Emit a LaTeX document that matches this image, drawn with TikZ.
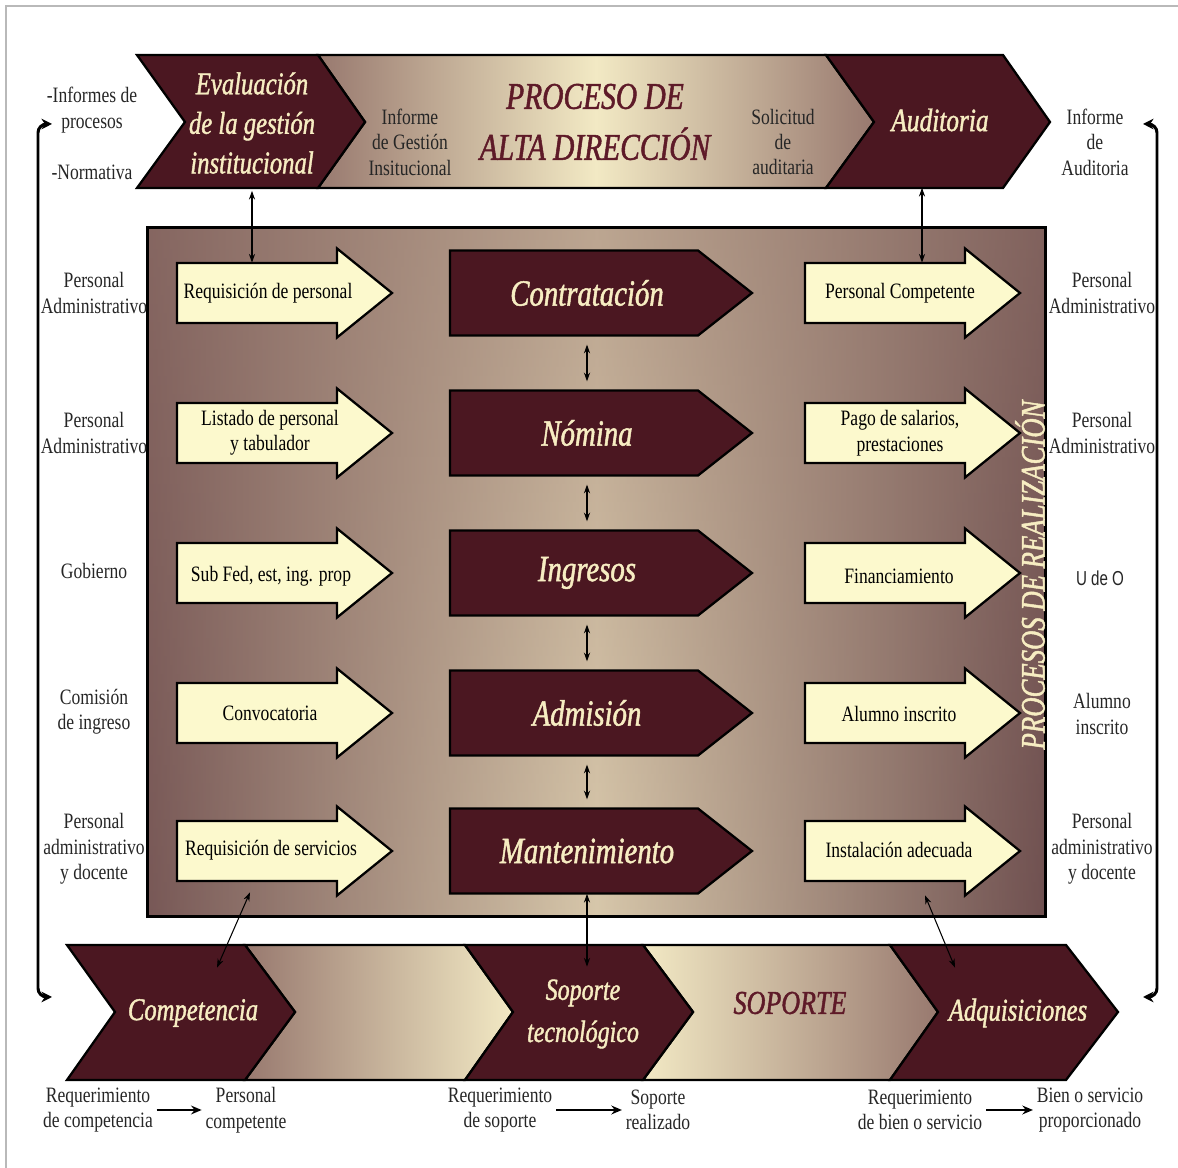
\documentclass[tikz,border=0pt]{standalone}
\usepackage{fontspec}
\setmainfont{Liberation Serif}[FakeStretch=0.8]
\newfontfamily\vistoso{Liberation Serif}[FakeStretch=0.78, FakeBold=1.3]
\newfontfamily\udeofont{Liberation Sans}[FakeStretch=0.75]
\usetikzlibrary{arrows.meta,fadings}

\definecolor{vino}{HTML}{4B1721}
\definecolor{crema}{HTML}{FCF9CD}
\definecolor{crematxt}{HTML}{F7EDC2}
\definecolor{malva}{HTML}{98796F}
\definecolor{palido}{HTML}{F2E9C4}
\definecolor{cajaosc}{HTML}{6A4A4C}
\definecolor{cajaosc2}{HTML}{5E3F43}
\definecolor{titulo}{HTML}{5E1A28}
\definecolor{gristxt}{HTML}{262626}

\tikzfading[name=tintefade, top color=transparent!40, middle color=transparent!100, bottom color=transparent!70]

\tikzset{
  contorno/.style={draw=black, line width=1.3pt, line join=miter},
  entrada/.pic={\draw[contorno, fill=crema] (0,-30) -- (160,-30) -- (160,-44.5) -- (215,0) -- (160,44.5) -- (160,30) -- (0,30) -- cycle;},
  proceso/.pic={\draw[contorno, fill=vino] (0,-42.5) -- (248,-42.5) -- (302,0) -- (248,42.5) -- (0,42.5) -- cycle;},
  etiqueta/.style={align=center, inner sep=2pt, text=gristxt, font=\fontsize{12.5}{14.5}\selectfont},
  txtflecha/.style={etiqueta, minimum height=1.2cm, text=black},
  txtproc/.style={align=center, inner sep=0pt, minimum height=1.7cm, text=crematxt, font=\vistoso\itshape\fontsize{21}{25}\selectfont},
  txtchev/.style={align=center, inner sep=0pt, minimum height=2.7cm, text=crematxt, font=\vistoso\itshape\fontsize{18}{22.5}\selectfont},
  enlace/.style={{Stealth[length=5pt,width=3.5pt]}-{Stealth[length=5pt,width=3.5pt]}, line width=0.6pt},
  retorno/.style={{Stealth[length=6pt,width=6pt]}-{Stealth[length=6pt,width=6pt]}, line width=1.7pt, rounded corners=5pt},
  flujo/.style={-{Stealth[length=6pt,width=5pt]}, line width=1.1pt},
}

\begin{document}
\begin{tikzpicture}[x=0.02cm, y=-0.02cm]
  \useasboundingbox (0,0) rectangle (1178,1168);
  \draw[gray!55, line width=0.7pt] (6,1168) -- (6,6) -- (1178,6);

  % alta direccion
  \shadedraw[contorno, left color=malva, right color=malva, middle color=palido] (318,55) -- (826,55) -- (874,122) -- (826,188) -- (318,188) -- (365,122) -- cycle;
  \draw[contorno, fill=vino] (137,55) -- (318,55) -- (365,122) -- (318,188) -- (137,188) -- (185,122) -- cycle;
  \draw[contorno, fill=vino] (826,55) -- (1003,55) -- (1050,122) -- (1003,188) -- (826,188) -- (874,122) -- cycle;
  \node[txtchev] (eval) at (252,123) {Evaluación\\de la gestión\\institucional};
  \node[txtchev, font=\vistoso\itshape\fontsize{18.5}{22}\selectfont] (aud) at (940,120) {Auditoria};
  \node[align=center, text=titulo, font=\vistoso\itshape\fontsize{21.5}{29}\selectfont] (titulo) at (595,122) {PROCESO DE\\ALTA DIRECCIÓN};
  \node[etiqueta] (infgest) at (410,142) {Informe\\de Gestión\\Insitucional};
  \node[etiqueta] (solic) at (783,142) {Solicitud\\de\\auditaria};
  \node[etiqueta] (infaud) at (1095,142) {Informe\\de\\Auditoria};
  \node[etiqueta] (infproc) at (92,110) {-Informes de\\procesos};
  \node[etiqueta] (norma) at (92,172) {-Normativa};

  % procesos de realizacion
  \node[minimum width=17.94cm, minimum height=13.76cm, inner sep=0pt, left color=cajaosc, right color=cajaosc2, middle color=palido] (realiz) at (596.5,572) {};
  \fill[malva, path fading=tintefade] (realiz.north west) rectangle (realiz.south east);
  \draw[line width=1.6pt] (realiz.north west) rectangle (realiz.south east);
  \node[rotate=90, text=crematxt, font=\vistoso\itshape\fontsize{19.5}{22}\selectfont] (realtag) at (1030,575) {PROCESOS DE REALIZACIÓN};

  \pic at (177,293) {entrada};
  \pic at (450,293) {proceso};
  \pic at (805,293) {entrada};
  \pic at (177,433) {entrada};
  \pic at (450,433) {proceso};
  \pic at (805,433) {entrada};
  \pic at (177,573) {entrada};
  \pic at (450,573) {proceso};
  \pic at (805,573) {entrada};
  \pic at (177,713) {entrada};
  \pic at (450,713) {proceso};
  \pic at (805,713) {entrada};
  \pic at (177,851) {entrada};
  \pic at (450,851) {proceso};
  \pic at (805,851) {entrada};

  \node[txtflecha] (in1) at (268,293) {Requisición de personal};
  \node[txtflecha] (in2) at (270,433) {Listado de personal\\y tabulador};
  \node[txtflecha] (in3) at (271,576) {Sub Fed, est, ing. prop};
  \node[txtflecha] (in4) at (270,713) {Convocatoria};
  \node[txtflecha] (in5) at (271,850) {Requisición de servicios};

  \node[txtproc] (contr) at (587,293) {Contratación};
  \node[txtproc] (nomina) at (587,433) {Nómina};
  \node[txtproc] (ingr) at (587,573) {Ingresos};
  \node[txtproc] (admis) at (587,713) {Admisión};
  \node[txtproc] (mant) at (587,851) {Mantenimiento};

  \node[txtflecha] (out1) at (900,293) {Personal Competente};
  \node[txtflecha] (out2) at (900,433) {Pago de salarios,\\prestaciones};
  \node[txtflecha] (out3) at (899,576) {Financiamiento};
  \node[txtflecha] (out4) at (899,714) {Alumno inscrito};
  \node[txtflecha] (out5) at (899,850) {Instalación adecuada};

  \node[etiqueta] (src1) at (94,293) {Personal\\Administrativo};
  \node[etiqueta] (src2) at (94,433) {Personal\\Administrativo};
  \node[etiqueta] (src3) at (94,571) {Gobierno};
  \node[etiqueta] (src4) at (94,712) {Comisión\\de ingreso};
  \node[etiqueta] (src5) at (94,849) {Personal\\administrativo\\y docente};

  \node[etiqueta] (dst1) at (1102,293) {Personal\\Administrativo};
  \node[etiqueta] (dst2) at (1102,433) {Personal\\Administrativo};
  \node[etiqueta, font=\udeofont\fontsize{11.5}{14}\selectfont] (dst3) at (1100,578) {U de O};
  \node[etiqueta] (dst4) at (1102,714) {Alumno\\inscrito};
  \node[etiqueta] (dst5) at (1102,849) {Personal\\administrativo\\y docente};

  % soporte
  \shadedraw[contorno, left color=malva, right color=palido] (245,945) -- (465,945) -- (513,1012) -- (465,1080) -- (245,1080) -- (295,1012) -- cycle;
  \shadedraw[contorno, left color=palido, right color=malva] (643,945) -- (890,945) -- (938,1012) -- (890,1080) -- (643,1080) -- (693,1012) -- cycle;
  \draw[contorno, fill=vino] (67,945) -- (245,945) -- (295,1012) -- (245,1080) -- (67,1080) -- (115,1012) -- cycle;
  \draw[contorno, fill=vino] (465,945) -- (643,945) -- (693,1012) -- (643,1080) -- (465,1080) -- (513,1012) -- cycle;
  \draw[contorno, fill=vino] (890,945) -- (1066,945) -- (1118,1012) -- (1066,1080) -- (890,1080) -- (938,1012) -- cycle;
  \node[txtchev] (comp) at (193,1013) {Competencia};
  \node[txtchev, font=\vistoso\itshape\fontsize{17.5}{24}\selectfont] (sop) at (583,1014) {Soporte\\tecnológico};
  \node[text=titulo, font=\vistoso\itshape\fontsize{19}{22}\selectfont] (soporte) at (790,1003) {SOPORTE};
  \node[txtchev] (adq) at (1018,1013) {Adquisiciones};

  \node[etiqueta] (req1) at (98,1110) {Requerimiento\\de competencia};
  \node[etiqueta] (got1) at (246,1110) {Personal\\competente};
  \node[etiqueta] (req2) at (500,1110) {Requerimiento\\de soporte};
  \node[etiqueta] (got2) at (658,1110) {Soporte\\realizado};
  \node[etiqueta] (req3) at (920,1110) {Requerimiento\\de bien o servicio};
  \node[etiqueta] (got3) at (1090,1110) {Bien o servicio\\proporcionado};

  % conexiones
  \draw[enlace] (eval.south) -- (eval.south |- in1.north);
  \draw[enlace] ([xshift=-0.36cm]aud.south) -- ([xshift=-0.36cm]aud.south |- out1.north);
  \draw[enlace, shorten <=5pt, shorten >=5pt] (contr) -- (nomina);
  \draw[enlace, shorten <=5pt, shorten >=5pt] (nomina) -- (ingr);
  \draw[enlace, shorten <=5pt, shorten >=5pt] (ingr) -- (admis);
  \draw[enlace, shorten <=5pt, shorten >=5pt] (admis) -- (mant);
  \draw[enlace] ([xshift=-0.42cm, yshift=-0.24cm]in5.south) -- ([xshift=0.48cm, yshift=-0.45cm]comp.north);
  \draw[enlace] (mant.south) -- ([yshift=-0.41cm]sop.north -| mant.south);
  \draw[enlace] ([xshift=0.52cm, yshift=-0.3cm]out5.south) -- ([xshift=-1.26cm, yshift=-0.45cm]adq.north);

  \draw[flujo] (req1) -- (got1);
  \draw[flujo] (req2) -- (got2);
  \draw[flujo] (req3) -- (got3);

  \coordinate (retI1) at (52,124);
  \coordinate (retI2) at (52,997);
  \coordinate (retD1) at (1143,124);
  \coordinate (retD2) at (1143,997);
  \draw[retorno] (retI1) -| (38,560) |- (retI2);
  \draw[retorno] (retD1) -| (1157,560) |- (retD2);
\end{tikzpicture}
\end{document}
